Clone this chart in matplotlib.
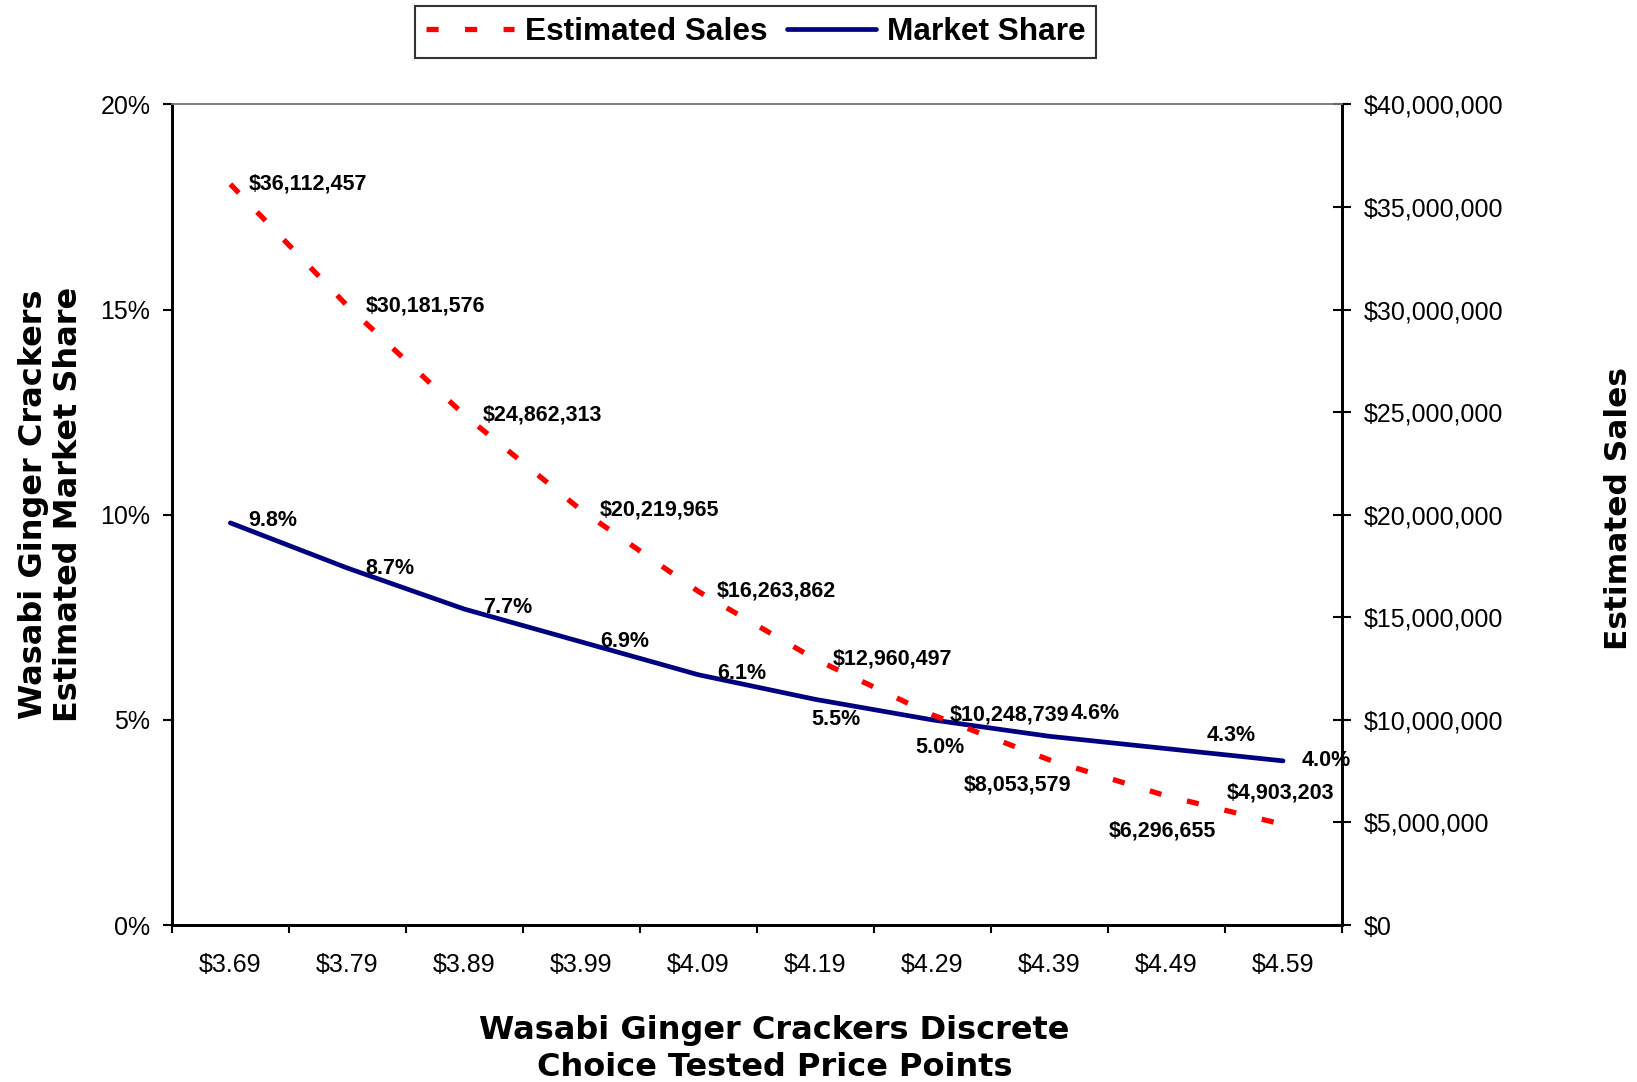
import numpy as np
import matplotlib
matplotlib.use("Agg")
import matplotlib.pyplot as plt
from matplotlib.ticker import FuncFormatter, FixedLocator

# データ
price_points = ["$3.69", "$3.79", "$3.89", "$3.99", "$4.09",
                "$4.19", "$4.29", "$4.39", "$4.49", "$4.59"]
market_share = [0.098, 0.087, 0.077, 0.069, 0.061, 0.055, 0.050, 0.046, 0.043, 0.040]
estimated_sales = [36112457, 30181576, 24862313, 20219965, 16263862,
                   12960497, 10248739, 8053579, 6296655, 4903203]

# ラベル位置（ピクセル単位のオフセット）
sales_offsets = [(18, 0, "left")] * 7 + [(-32, -25, "center"), (-4, -35, "center"), (-3, 31, "center")]
share_offsets = [(18, 2, "left"), (18, 0, "left"), (19, 2, "left"), (19, 0, "left"), (19, 1, "left"),
                 (21, -20, "center"), (8, -28, "center"), (46, 23, "center"), (65, 13, "center"),
                 (19, 0, "left")]

NAVY = "#000080"
RED = "#ff0000"
ARIAL = "Liberation Sans"
TITLE_FONT = "DejaVu Sans"

fig = plt.figure(figsize=(16.37, 10.82), dpi=100)
ax = fig.add_axes([0.105, 0.1451, 0.7145, 0.7584])
ax2 = ax.twinx()

x = np.arange(len(price_points))

line_share, = ax.plot(x, market_share, color=NAVY, lw=3.4, solid_capstyle="round",
                      label="Market Share")
line_sales, = ax2.plot(x, estimated_sales, color=RED, lw=3.8, dashes=(2.3, 5.0),
                       dash_capstyle="butt", label="Estimated Sales")

ax.set_xlim(-0.5, len(price_points) - 0.5)
ax.set_ylim(0, 0.20)
ax2.set_ylim(0, 40_000_000)

# x軸：境界に目盛り、中央にラベル
ax.xaxis.set_major_locator(FixedLocator(np.arange(-0.5, len(price_points), 1.0)))
ax.xaxis.set_minor_locator(FixedLocator(x))
ax.set_xticklabels([], minor=False)
ax.set_xticklabels(price_points, minor=True, family=ARIAL, fontsize=18)
ax.tick_params(axis="x", which="major", direction="out", length=6, width=1.5, color="black")
ax.tick_params(axis="x", which="minor", length=0, pad=20)

ax.set_yticks(np.arange(0, 0.201, 0.05))
ax.yaxis.set_major_formatter(FuncFormatter(lambda v, p: f"{v * 100:.0f}%"))
ax.tick_params(axis="y", direction="out", length=6.5, width=1.5, pad=9, labelsize=18)
for t in ax.get_yticklabels():
    t.set_family(ARIAL)

ax2.set_yticks(np.arange(0, 40_000_001, 5_000_000))
ax2.yaxis.set_major_formatter(FuncFormatter(lambda v, p: f"${v:,.0f}"))
ax2.tick_params(axis="y", direction="inout", length=13, width=1.5, pad=9.5, labelsize=18)
for t in ax2.get_yticklabels():
    t.set_family(ARIAL)

# 枠線
for a in (ax, ax2):
    a.spines["top"].set_color("#808080")
    a.spines["top"].set_linewidth(1.2)
    a.spines["left"].set_linewidth(2)
    a.spines["bottom"].set_linewidth(2)
    a.spines["right"].set_linewidth(2)

# データラベル
for xi, v, (dx, dy, ha) in zip(x, estimated_sales, sales_offsets):
    ax2.annotate(f"${v:,.0f}", (xi, v), xytext=(dx, dy), textcoords="offset pixels",
                 ha=ha, va="center", fontsize=15.5, fontweight="bold", family=ARIAL)
for xi, v, (dx, dy, ha) in zip(x, market_share, share_offsets):
    ax2.annotate(f"{v * 100:.1f}%", (xi, v * 200_000_000), xytext=(dx, dy),
                 textcoords="offset pixels", ha=ha, va="center", fontsize=15.5,
                 fontweight="bold", family=ARIAL)

# 軸タイトル
fig.text(0.473, 0.0305, "Wasabi Ginger Crackers Discrete\nChoice Tested Price Points",
         ha="center", va="center", fontsize=23, fontweight="bold", family=TITLE_FONT,
         linespacing=1.22)
fig.text(0.031, 0.534, "Wasabi Ginger Crackers\nEstimated Market Share", rotation=90,
         ha="center", va="center", fontsize=23, fontweight="bold", family=TITLE_FONT,
         linespacing=1.15)
fig.text(0.989, 0.530, "Estimated Sales", rotation=90, ha="center", va="center",
         fontsize=22.5, fontweight="bold", family=TITLE_FONT)

# 凡例
leg = fig.legend(handles=[line_sales, line_share], loc="center",
                 bbox_to_anchor=(0.4615, 0.9704), ncol=2, frameon=True, fancybox=False,
                 edgecolor="black", handlelength=2.8, handletextpad=0.35, columnspacing=0.6,
                 borderpad=0.34, prop={"family": ARIAL, "weight": "bold", "size": 22.8})
leg.get_frame().set_linewidth(1.5)

fig.savefig("out.png", dpi=100)
